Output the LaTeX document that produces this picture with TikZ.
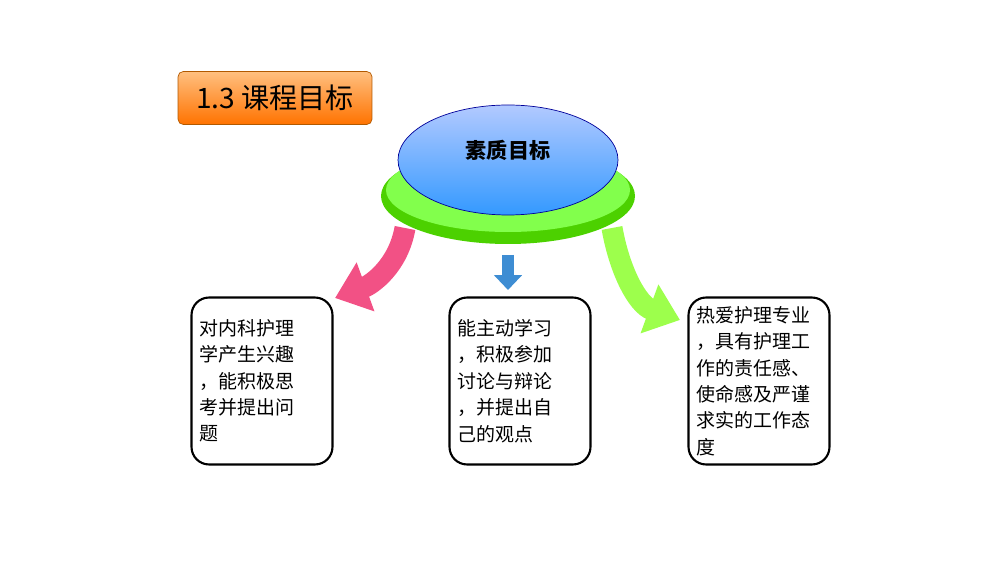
\documentclass[tikz,border=0pt]{standalone}
\usepackage{fontspec}
\setmainfont{Noto Sans CJK SC}
\usetikzlibrary{arrows.meta,positioning}
\tikzset{goalbox/.style={rectangle, draw, line width=1.2pt, rounded corners=10pt, minimum width=2.82cm, minimum height=3.34cm, text width=2.5cm, align=left, font=\fontsize{10.8}{15}\selectfont},
  bigarrow/.style={line width=0.42cm, -{Triangle[length=0.65cm, width=1cm]}}}
\begin{document}
\begin{tikzpicture}[x=0.02cm, y=-0.02cm]
        \useasboundingbox (0,0) rectangle (1000,563);
        % title
        \node[rectangle, rounded corners=3pt, draw=orange!70!black, top color=orange!50, bottom color=orange!90!red, minimum width=3.88cm, minimum height=1.06cm, font=\fontsize{16}{18}\selectfont] at (275, 98) (title) {1.3 课程目标};
        % central disc
        \fill[green!70!black!60!lime] (508, 196) ellipse (127 and 48);
        \fill[green!60!lime!70] (508, 190) ellipse (122 and 42);
        \shade[top color=cyan!30!blue!30, bottom color=blue!50!cyan!80, draw=blue!60!black] (508, 160) ellipse (110 and 55);
        \node[font=\fontsize{12}{14}\selectfont\bfseries] at (508, 150) (disc) {素质目标};
        \coordinate (pinkstart) at (405, 228);
        \coordinate (pinkend) at (335, 298);
        \coordinate (greenstart) at (612, 228);
        \coordinate (greenend) at (680, 320);
        \coordinate (bluestart) at (508, 255);
        \coordinate (blueend) at (508, 290);
        % arrows
        \draw[bigarrow, draw=magenta!60!red!70] (pinkstart) to[out=-100, in=20] (pinkend);
        \draw[bigarrow, draw=lime!60!green!70] (greenstart) to[out=-80, in=160] (greenend);
        \draw[line width=0.25cm, -{Triangle[length=0.3cm, width=0.55cm]}, draw=cyan!60!blue!80] (bluestart) -- (blueend);
        % goals
        \node[goalbox] at (262, 381) (left) {对内科护理\\学产生兴趣\\，能积极思\\考并提出问\\题};
        \node[goalbox] at (520, 381) (middle) {能主动学习\\，积极参加\\讨论与辩论\\，并提出自\\己的观点};
        \node[goalbox] at (759, 381) (right) {热爱护理专业\\，具有护理工\\作的责任感、\\使命感及严谨\\求实的工作态\\度};
\end{tikzpicture}
\end{document}
